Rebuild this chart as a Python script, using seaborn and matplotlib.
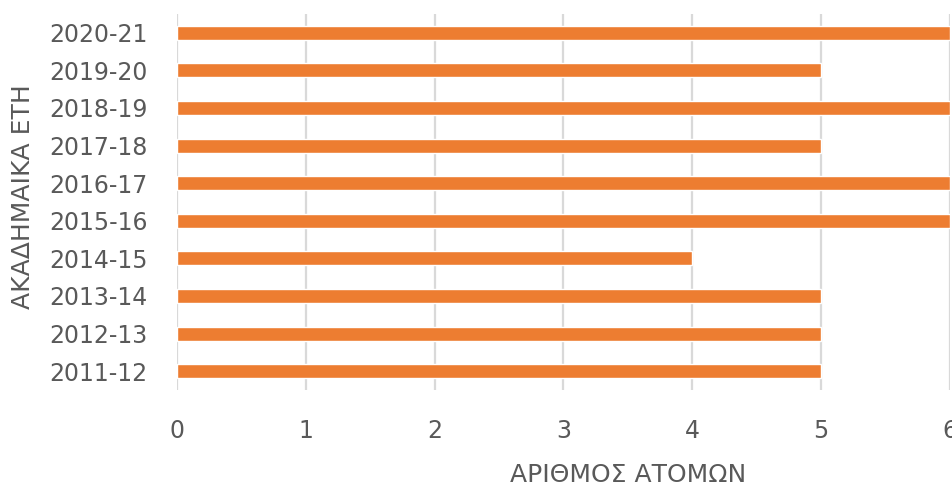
import matplotlib
matplotlib.use("Agg")
import matplotlib.pyplot as plt
import pandas as pd
import seaborn as sns

years = ["2020-21", "2019-20", "2018-19", "2017-18", "2016-17",
         "2015-16", "2014-15", "2013-14", "2012-13", "2011-12"]
people = [6, 5, 6, 5, 6, 6, 4, 5, 5, 5]
x_ticks = [0, 1, 2, 3, 4, 5, 6]

df = pd.DataFrame({"year": years, "people": people})

sns.set_style("white")
plt.rcParams["font.family"] = ["DejaVu Sans"]

text_color = "#595959"
fig = plt.figure(figsize=(9.53, 4.87), dpi=100)
ax = fig.add_axes([177 / 953, 97 / 487, 773 / 953, 376 / 487])

sns.barplot(data=df, x="people", y="year", order=years, orient="h",
            color="#ED7D31", saturation=1, width=0.37, ax=ax, zorder=3)

ax.set_xlim(0, 6)
ax.set_ylim(len(years) - 0.5, -0.5)
ax.set_xticks(x_ticks)
ax.grid(axis="x", color="#D9D9D9", linewidth=1.6, zorder=0)
ax.grid(axis="y", visible=False)
sns.despine(ax=ax, left=True, bottom=True)

ax.tick_params(axis="both", length=0, labelsize=17, labelcolor=text_color)
ax.tick_params(axis="x", pad=21)
ax.tick_params(axis="y", pad=21)

ax.set_xlabel("ΑΡΙΘΜΟΣ ΑΤΟΜΩΝ", fontsize=18, color=text_color, labelpad=14)
ax.set_ylabel("ΑΚΑΔΗΜΑΙΚΑ ΕΤΗ", fontsize=18, color=text_color, labelpad=10)
ax.xaxis.label.set_x((628 - 177) / 773)
ax.yaxis.label.set_y((390 - 197) / 376)

fig.savefig("out.png", dpi=100)
